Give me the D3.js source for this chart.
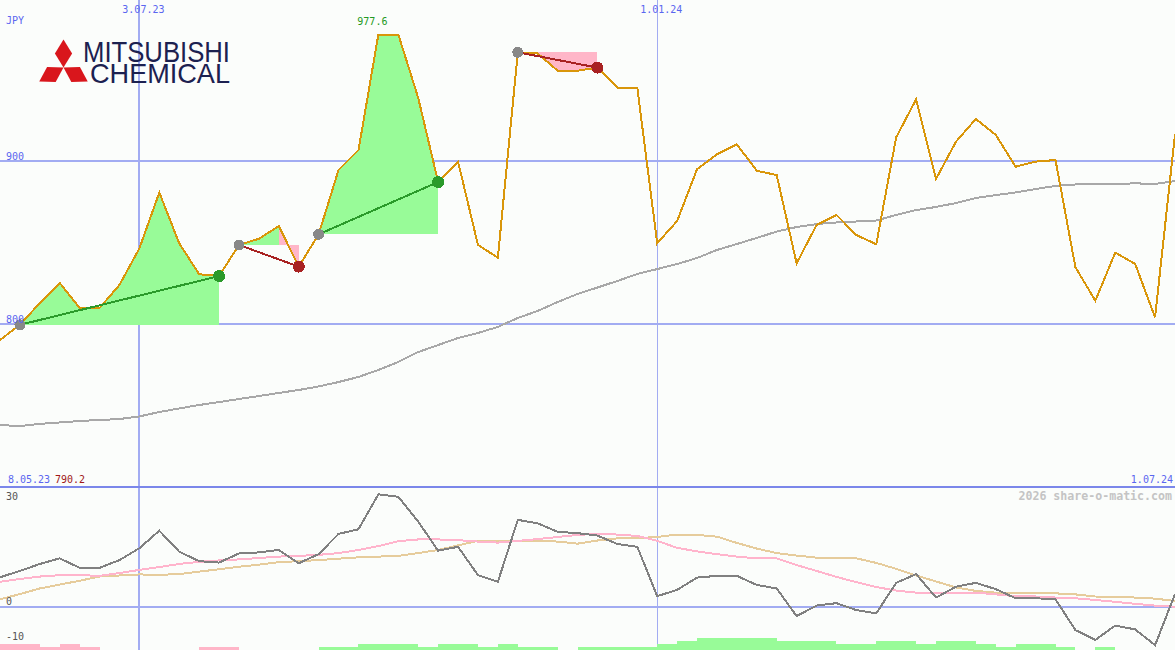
<!DOCTYPE html>
<html><head><meta charset="utf-8">
<script src="https://cdn.jsdelivr.net/npm/d3@7/dist/d3.min.js"></script>
<style>html,body{margin:0;padding:0;background:#fbfdfb;}svg{display:block;}</style>
</head><body><svg id="c" width="1175" height="650"></svg>
<script>
// ---------- data ----------
const startDate = "2023-05-15";   // first weekly close shown
const endDate = "2024-07-01";
const price = [790.2,799.5,812.9,825.2,809.8,809.8,824.0,846.4,880.6,849.5,
  830.5,829.4,848.5,852.3,860.1,835.2,855.0,894.5,906.7,977.6,
  977.6,938.7,887.1,899.6,848.5,840.7,966.7,966.0,955.4,955.4,
  957.3,945.0,945.0,849.5,863.2,894.9,904.1,910.2,894.0,891.4,
  837.2,860.7,866.9,854.6,848.9,914.5,937.8,889.0,911.8,925.8,
  916.0,896.5,899.6,900.6,834.8,814.3,843.8,836.8,804.1,916.4];
const movingAvg = [738.0,737.4,738.7,739.6,740.5,741.1,741.7,743.3,746.0,748.2,
  750.3,752.1,754.0,755.8,757.7,759.5,761.7,764.4,767.5,771.8,
  776.7,782.8,787.1,791.4,794.5,798.2,803.7,808.0,813.5,818.4,
  822.4,826.4,830.7,833.7,836.8,840.5,845.4,849.1,852.8,856.7,
  859.5,861.3,862.3,862.9,863.5,866.9,869.9,871.8,874.2,877.3,
  879.1,880.7,882.8,884.7,885.6,885.7,885.9,886.3,885.9,887.7];
const oscillator = [8.5,10.3,12.3,13.9,11.2,11.2,13.4,16.8,21.8,15.8,
  13.1,12.7,15.3,15.6,16.3,12.5,15.1,20.9,22.2,32.2,
  31.5,24.4,16.1,17.2,9.1,7.2,24.9,23.9,21.5,21.1,
  20.4,18.0,17.2,3.1,4.9,8.4,8.9,8.9,6.3,5.3,
  -2.6,0.4,1.1,-0.9,-1.8,6.9,9.4,2.7,5.8,6.9,
  5.1,2.5,2.5,2.2,-6.6,-9.4,-5.3,-6.4,-10.9,3.7];
const oscFast = [7.2,8.0,8.7,9.1,9.1,8.9,9.7,10.6,11.4,12.3,
  12.9,13.3,13.6,14.0,14.4,14.6,14.9,15.4,16.3,17.4,
  18.8,19.3,19.3,19.1,18.7,18.4,18.9,19.4,20.0,20.6,
  20.9,20.7,20.3,18.9,16.9,15.9,15.1,14.4,13.9,13.9,
  12.0,10.3,8.6,7.1,5.7,4.7,4.1,4.1,4.1,4.1,
  3.6,3.1,3.0,2.7,2.5,2.0,1.5,0.9,0.4,0.1];
const oscSlow = [2.2,3.7,5.3,6.4,7.5,8.7,9.0,9.3,9.2,9.4,
  10.1,10.8,11.5,12.1,12.8,13.1,13.4,13.8,14.2,14.4,
  14.6,15.4,16.3,17.6,18.9,18.9,18.9,18.9,18.7,18.1,
  19.0,19.6,19.7,20.0,20.7,20.6,20.1,18.3,16.7,15.4,
  14.7,14.1,13.9,13.9,12.6,10.9,9.0,7.3,5.6,4.6,
  4.1,4.1,4.0,3.9,3.6,3.0,2.9,2.7,2.4,1.7];
// weekly trend bars (negative = pink, positive = green)
const trendBars = [-2,-2,-1,-2,-1,0,0,0,0,0,
  -1,-1,0,0,0,0,1,1,2,2,
  2,1,2,2,1,2,1,1,0,1,
  1,1,1,2,3,4,4,4,4,3,
  3,3,2,2,3,3,2,3,3,2,
  1,2,2,1,0,1,0,0,0];
const signalStart = [1,12,16,26];
const signalEnd = [11,15,22,30];
const signalDir = ["up","down","up","down"];
const priceTicks = [800,900];
const oscTicks = [30,0,-10];
const dateTicks = ["2023-07-03","2024-01-01"];
const dateTickLabels = ["3.07.23","1.01.24"];
const dateTickWidths = [2,1];
const currency = "JPY";
const startLabel = "8.05.23";
const endLabel = "1.07.24";
const minLabel = "790.2";
const maxLabel = "977.6";
const watermark = "2026 share-o-matic.com";
const logoLines = ["MITSUBISHI", "CHEMICAL"];

// ---------- setup ----------
const W = 1175, H = 650;
const svg = d3.select("#c");
const parse = d3.timeParse("%Y-%m-%d");
const t0 = parse(startDate);
const dates = price.map((d,i) => d3.timeDay.offset(t0, 7*i));
const x = d3.scaleTime().domain([t0, parse(endDate)]).range([0, W]);
const y = d3.scaleLinear().domain([800, 900]).range([324, 161]);
const yo = d3.scaleLinear().domain([0, 10]).range([607, 572]);
const hb = d3.scaleLinear().domain([0, 4]).range([0, 12]);
const mono = "'DejaVu Sans Mono', monospace";
const gridBlue = "#a2acf2", textBlue = "#5a66f0";

svg.append("rect").attr("width", W).attr("height", H).attr("fill", "#fbfdfb");
const plot = svg.append("g").attr("shape-rendering", "crispEdges");

// horizontal price grid
plot.selectAll(".hg").data(priceTicks).join("line")
  .attr("x1", 0).attr("x2", W).attr("y1", d => y(d)).attr("y2", d => y(d))
  .attr("stroke", gridBlue).attr("stroke-width", 2);
// vertical date grid (1px lines centred on half pixels)
plot.selectAll(".vg").data(dateTicks).join("line")
  .attr("x1", (d,i) => Math.round(x(parse(d))) + (dateTickWidths[i] % 2 ? 0.5 : 0))
  .attr("x2", (d,i) => Math.round(x(parse(d))) + (dateTickWidths[i] % 2 ? 0.5 : 0))
  .attr("y1", 0).attr("y2", H)
  .attr("stroke", gridBlue).attr("stroke-width", (d,i) => dateTickWidths[i]);

// lower panel lines
plot.append("line").attr("x1",0).attr("x2",W).attr("y1",yo(0)).attr("y2",yo(0))
  .attr("stroke", gridBlue).attr("stroke-width", 2);
plot.append("line").attr("x1",0).attr("x2",W).attr("y1",487).attr("y2",487)
  .attr("stroke", "#7b87ea").attr("stroke-width", 2);

// signal fills
const fillG = plot.append("g");
signalStart.forEach((a, s) => {
  const b = signalEnd[s], base = price[a];
  for (let j = a; j < b; j++) {
    const pts = [[x(dates[j]), y(base)], [x(dates[j]), y(price[j])],
                 [x(dates[j+1]), y(price[j+1])], [x(dates[j+1]), y(base)]];
    fillG.append("path").attr("d", d3.line()(pts) + "Z")
      .attr("fill", price[j+1] >= base ? "#98fb98" : "#ffb6c8");
  }
});

// moving average
plot.append("path").datum(movingAvg)
  .attr("d", d3.line().x((d,i) => x(dates[i])).y(d => y(d)))
  .attr("fill","none").attr("stroke","#a8a8a8").attr("stroke-width",2);
// price
plot.append("path").datum(price)
  .attr("d", d3.line().x((d,i) => x(dates[i])).y(d => y(d)))
  .attr("fill","none").attr("stroke","#d9960a").attr("stroke-width",2);

// signal lines & markers
signalStart.forEach((a, s) => {
  const b = signalEnd[s];
  const col = signalDir[s] === "up" ? "#2a9a2a" : "#a82222";
  plot.append("line").attr("x1", x(dates[a])).attr("y1", y(price[a]))
    .attr("x2", x(dates[b])).attr("y2", y(price[b]))
    .attr("stroke", col).attr("stroke-width", 2);
  plot.append("circle").attr("cx", x(dates[a])).attr("cy", y(price[a])).attr("r", 5.5).attr("fill", "#888");
  plot.append("circle").attr("cx", x(dates[b])).attr("cy", y(price[b])).attr("r", 6).attr("fill", col);
});

// trend bars
plot.selectAll(".bar").data(trendBars).join("rect")
  .attr("x", (d,i) => x(dates[i]))
  .attr("width", (d,i) => x(dates[i+1]) - x(dates[i]))
  .attr("y", d => H - hb(Math.abs(d)))
  .attr("height", d => hb(Math.abs(d)))
  .attr("fill", d => d < 0 ? "#ffb6c8" : "#98fb98");

// oscillator lines
const ol = d3.line().x((d,i) => x(dates[i])).y(d => yo(d));
plot.append("path").datum(oscSlow).attr("d", ol).attr("fill","none").attr("stroke","#e6cc9c").attr("stroke-width",2);
plot.append("path").datum(oscFast).attr("d", ol).attr("fill","none").attr("stroke","#ffb4cc").attr("stroke-width",2);
plot.append("path").datum(oscillator).attr("d", ol).attr("fill","none").attr("stroke","#808080").attr("stroke-width",2);

// ---------- text ----------
const txt = (s, xx, yy, col, anchor, size, weight) => svg.append("text")
  .attr("x", xx).attr("y", yy).attr("fill", col).attr("text-anchor", anchor || "start")
  .attr("font-family", mono).attr("font-size", size || 10).attr("font-weight", weight || "normal").text(s);

txt(currency, 6, 24, textBlue);
priceTicks.forEach(v => txt(String(v), 6, y(v) - 1, textBlue));
dateTicks.forEach((d,i) => txt(dateTickLabels[i], x(parse(d)) + 4, 13, textBlue, "middle"));
const maxIdx = price.indexOf(d3.max(price));
txt(maxLabel, x(dates[maxIdx]) - 6, 25, "#229922", "middle");
txt(startLabel, 8, 483, textBlue);
txt(minLabel, 55, 483, "#a01818");
txt(endLabel, 1173, 483, textBlue, "end");
oscTicks.forEach(v => txt(String(v), 6, Math.min(yo(v) - 2, 646), "#555"));
txt(watermark, 1172, 500, "#c4c4c4", "end", 11.6, "bold");

// ---------- logo ----------
const logo = svg.append("g");
const C = [63.5, 67.5], L = 28, w = 8.6;
[0, 120, 240].forEach(ang => {
  const r = ang * Math.PI / 180;
  const dir = [Math.sin(r), -Math.cos(r)], perp = [Math.cos(r), Math.sin(r)];
  const pts = [C,
    [C[0] + dir[0]*L/2 + perp[0]*w, C[1] + dir[1]*L/2 + perp[1]*w],
    [C[0] + dir[0]*L, C[1] + dir[1]*L],
    [C[0] + dir[0]*L/2 - perp[0]*w, C[1] + dir[1]*L/2 - perp[1]*w]];
  logo.append("path").attr("d", d3.line()(pts) + "Z").attr("fill", "#d9161c");
});
const lt = logo.append("text").attr("font-family", "'Liberation Sans', Arial, sans-serif")
  .attr("fill", "#1c2150");
lt.append("tspan").attr("x", 83).attr("y", 62).attr("font-size", 30)
  .attr("textLength", 147).attr("lengthAdjust", "spacingAndGlyphs").text(logoLines[0]);
lt.append("tspan").attr("x", 90).attr("y", 83).attr("font-size", 28)
  .attr("textLength", 140).attr("lengthAdjust", "spacingAndGlyphs").text(logoLines[1]);
</script></body></html>
